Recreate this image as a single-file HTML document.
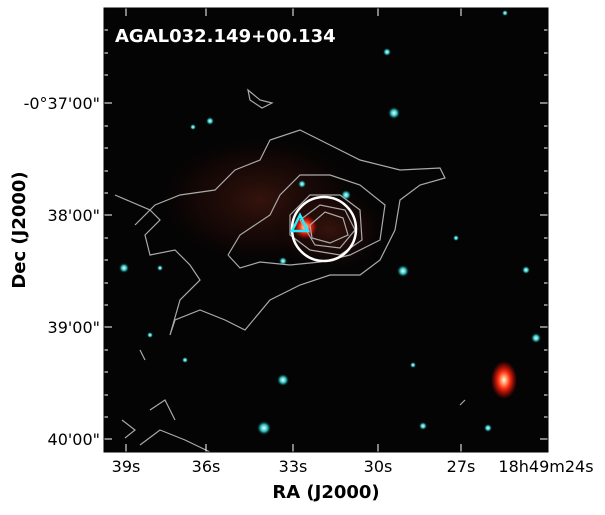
<!DOCTYPE html>
<html><head><style>
body{margin:0;background:#fff;width:605px;height:511px;overflow:hidden;font-family:"DejaVu Sans","Liberation Sans",sans-serif}
</style></head><body>
<svg width="605" height="511" xmlns="http://www.w3.org/2000/svg">
<defs>
<radialGradient id="neb" cx="0.5" cy="0.5" r="0.5">
<stop offset="0" stop-color="#4a1a10" stop-opacity="0.7"/>
<stop offset="0.6" stop-color="#2a0c08" stop-opacity="0.4"/>
<stop offset="1" stop-color="#000" stop-opacity="0"/>
</radialGradient>
<radialGradient id="src" cx="0.5" cy="0.5" r="0.5">
<stop offset="0" stop-color="#ffffcc"/>
<stop offset="0.45" stop-color="#ff3010"/>
<stop offset="1" stop-color="#ff0000" stop-opacity="0"/>
</radialGradient>
<radialGradient id="cy" cx="0.5" cy="0.5" r="0.5">
<stop offset="0" stop-color="#eaffff"/>
<stop offset="0.5" stop-color="#30c0c0"/>
<stop offset="1" stop-color="#004040" stop-opacity="0"/>
</radialGradient>
</defs>
<rect x="104" y="8" width="444" height="444" fill="#040404"/>
<ellipse cx="260" cy="200" rx="110" ry="70" fill="url(#neb)"/>
<ellipse cx="330" cy="230" rx="60" ry="45" fill="url(#neb)"/>
<circle cx="305" cy="227" r="12" fill="url(#src)"/>
<ellipse cx="504" cy="380" rx="13" ry="19" fill="url(#src)"/>
<g fill="url(#cy)">
<circle cx="394" cy="113" r="6"/><circle cx="403" cy="271" r="6"/><circle cx="283" cy="380" r="6"/>
<circle cx="264" cy="428" r="7"/><circle cx="536" cy="338" r="5"/><circle cx="124" cy="268" r="5"/>
<circle cx="210" cy="121" r="4"/><circle cx="346" cy="195" r="5"/><circle cx="423" cy="426" r="4"/>
<circle cx="488" cy="428" r="4"/><circle cx="387" cy="52" r="4"/><circle cx="526" cy="270" r="4"/>
<circle cx="283" cy="261" r="4"/><circle cx="302" cy="184" r="4"/><circle cx="456" cy="238" r="3"/>
<circle cx="193" cy="127" r="3"/><circle cx="160" cy="268" r="3"/><circle cx="505" cy="13" r="3"/>
<circle cx="413" cy="365" r="3"/><circle cx="185" cy="360" r="3"/><circle cx="150" cy="335" r="3"/>
</g>
<g fill="none" stroke="#aaa" stroke-width="1.2">
<path d="M115,195 L150,210 L135,225 L155,205 L180,195 L215,190 L235,170 L260,160 L270,140 L300,130 L330,145 L360,160 L400,170 L440,168 L445,178 L420,185 L400,200 L395,230 L380,260 L360,275 L330,275 L300,285 L270,300 L245,330 L225,320 L200,310 L175,320 L170,335 L180,300 L200,280 L190,265 L175,250 L150,255 L145,235 L160,220 L150,210"/>
<path d="M228,255 L240,235 L270,215 L280,195 L300,175 L330,175 L360,185 L385,205 L380,240 L350,255 L320,262 L290,265 L260,262 L240,268 L228,255"/>
<path d="M290,215 L310,195 L340,195 L360,210 L362,240 L340,255 L310,250 L290,235 Z"/>
<path d="M300,220 L320,205 L345,210 L355,230 L340,248 L315,245 Z"/>
<path d="M310,225 L325,212 L343,218 L348,235 L330,243 L312,238 Z"/>
<path d="M248,90 L260,100 L272,103 L262,108 L250,100 Z"/>
<path d="M122,420 L135,430 L125,438 M140,445 L160,430 L185,440 L210,452 M150,410 L165,400 L175,420"/>
<path d="M140,350 L145,360 M460,405 L465,400"/>
</g>
<circle cx="324" cy="229" r="32" fill="none" stroke="#fff" stroke-width="2.5"/>
<path d="M300,215 L292,231 L308,231 Z" fill="none" stroke="#2ef" stroke-width="2.5"/>
<text x="115" y="42" fill="#fff" font-weight="bold" font-size="18">AGAL032.149+00.134</text>
<g stroke="#fff" stroke-width="1">
<path d="M104,103 h8 M104,215 h8 M104,327 h8 M104,439 h8 M548,103 h-8 M548,215 h-8 M548,327 h-8 M548,439 h-8"/>
<path d="M126,452 v-8 M206,452 v-8 M293,452 v-8 M378,452 v-8 M461,452 v-8 M126,8 v8 M206,8 v8 M293,8 v8 M378,8 v8 M461,8 v8"/>
<path d="M104,30 h4 M104,53 h4 M104,75 h4 M104,126 h4 M104,148 h4 M104,171 h4 M104,193 h4 M104,238 h4 M104,260 h4 M104,283 h4 M104,305 h4 M104,350 h4 M104,372 h4 M104,395 h4 M104,417 h4 M548,30 h-4 M548,53 h-4 M548,75 h-4 M548,126 h-4 M548,148 h-4 M548,171 h-4 M548,193 h-4 M548,238 h-4 M548,260 h-4 M548,283 h-4 M548,305 h-4 M548,350 h-4 M548,372 h-4 M548,395 h-4 M548,417 h-4"/>
</g>
<rect x="104" y="8" width="444" height="444" fill="none" stroke="#000" stroke-width="1"/>
<g font-size="16" fill="#000" text-anchor="end">
<text x="100" y="109">-0°37'00"</text><text x="100" y="221">38'00"</text>
<text x="100" y="333">39'00"</text><text x="100" y="445">40'00"</text>
</g>
<g font-size="16" fill="#000" text-anchor="middle">
<text x="126" y="472">39s</text><text x="206" y="472">36s</text><text x="293" y="472">33s</text>
<text x="378" y="472">30s</text><text x="461" y="472">27s</text><text x="546" y="472">18h49m24s</text>
</g>
<text x="326" y="498" font-size="18" font-weight="bold" text-anchor="middle">RA (J2000)</text>
<text transform="translate(25,230) rotate(-90)" font-size="18" font-weight="bold" text-anchor="middle">Dec (J2000)</text>
</svg>
</body></html>
